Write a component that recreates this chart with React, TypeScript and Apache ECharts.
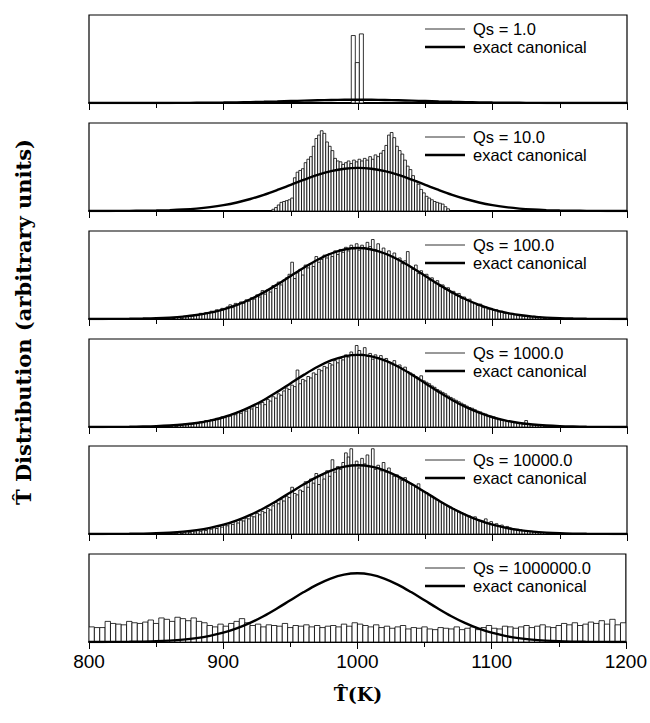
import React, { useEffect, useRef } from "react";
import * as echarts from "echarts";

// ---------- data ----------
const xMin = 800;
const xMax = 1200;
const xInterval = 100;
const xTickValues = [800, 900, 1000, 1100, 1200];
const xTickLabels = ["800", "900", "1000", "1100", "1200"];

const qsLabels = ["Qs = 1.0", "Qs = 10.0", "Qs = 100.0", "Qs = 1000.0", "Qs = 10000.0", "Qs = 1000000.0"];
const curveLabel = "exact canonical";

// vertical range of each panel (arbitrary units; canonical curve peaks at 100)
const panelYMax = [2700, 204, 124, 122, 128, 128];

// exact canonical distribution (arbitrary units)
const curveT = [
  800, 810, 820, 830, 840, 850, 860, 870, 880, 890, 900, 910, 920, 930, 940, 950, 960, 970, 980, 990, 1000,
  1010, 1020, 1030, 1040, 1050, 1060, 1070, 1080, 1090, 1100, 1110, 1120, 1130, 1140, 1150, 1160, 1170, 1180, 1190, 1200,
];
const curveValues = [
  0.0, 0.1, 0.2, 0.3, 0.6, 1.1, 2.0, 3.4, 5.6, 8.9, 13.5, 19.8, 27.8, 37.5, 48.7, 60.7, 72.6, 83.5, 92.3, 98.0, 100,
  98.0, 92.3, 83.5, 72.6, 60.7, 48.7, 37.5, 27.8, 19.8, 13.5, 8.9, 5.6, 3.4, 2.0, 1.1, 0.6, 0.3, 0.2, 0.1, 0.0,
];

// histogram bins: first left edge and width per panel
const binStarts = [995, 936, 860, 860, 860, 800];
const binWidths = [3, 2, 2, 2, 2, 4];

const qs1Counts = [2070, 1240, 2120];

const qs10Counts = [
  4, 8, 14, 20, 22, 24, 26, 30, 77, 90,
  94, 98, 112, 120, 126, 150, 168, 176, 186, 180,
  160, 150, 140, 122, 116, 114, 108, 112, 116, 110,
  118, 114, 120, 116, 122, 118, 126, 120, 130, 126,
  134, 140, 152, 176, 182, 170, 150, 140, 132, 118,
  104, 96, 82, 70, 62, 50, 42, 34, 30, 26,
  22, 20, 18, 16, 10, 5,
];

const qs100Counts = [
  1, 0, 2, 3, 1, 4, 3, 5, 4, 6,
  5, 8, 7, 9, 8, 11, 9, 13, 12, 15,
  14, 17, 20, 16, 22, 20, 24, 22, 27, 25,
  30, 28, 34, 31, 40, 35, 41, 38, 47, 43,
  52, 48, 55, 58, 63, 80, 57, 65, 70, 62,
  76, 72, 78, 74, 88, 80, 84, 90, 86, 92,
  88, 96, 91, 98, 94, 101, 96, 104, 99, 106,
  97, 104, 100, 108, 102, 112, 98, 106, 94, 100,
  92, 96, 88, 93, 84, 86, 78, 82, 95, 74,
  70, 76, 64, 68, 61, 63, 55, 58, 51, 54,
  46, 48, 42, 44, 37, 39, 33, 36, 29, 31,
  26, 28, 23, 22, 19, 21, 16, 17, 14, 15,
  12, 13, 10, 11, 8, 9, 7, 8, 6, 5,
  5, 4, 4, 3, 3, 4, 2, 3, 2, 1,
  2, 1, 1, 0, 1,
];

const qs1000Counts = [
  1, 2, 1, 3, 2, 4, 3, 5, 4, 6,
  5, 7, 6, 9, 8, 10, 9, 12, 11, 14,
  13, 16, 15, 18, 17, 21, 19, 24, 22, 26,
  25, 29, 27, 32, 34, 31, 38, 36, 42, 40,
  46, 44, 50, 54, 52, 58, 56, 79, 60, 66,
  64, 70, 68, 75, 73, 80, 78, 84, 82, 88,
  86, 92, 89, 95, 93, 100, 97, 104, 99, 113,
  106, 101, 110, 98, 102, 94, 100, 96, 99, 92,
  95, 90, 88, 92, 84, 86, 80, 83, 77, 75,
  73, 70, 68, 71, 64, 62, 60, 57, 55, 52,
  50, 48, 46, 43, 41, 39, 37, 35, 33, 31,
  29, 27, 26, 24, 22, 21, 19, 18, 16, 15,
  14, 12, 11, 10, 9, 8, 8, 7, 6, 5,
  5, 4, 9, 4, 3, 3, 2, 2, 2, 1,
  1, 1, 2, 1, 0,
];

const qs10000Counts = [
  0, 1, 1, 2, 1, 2, 3, 2, 4, 3,
  5, 4, 6, 5, 8, 7, 9, 8, 11, 10,
  13, 12, 15, 14, 18, 16, 20, 19, 23, 22,
  26, 25, 30, 28, 33, 31, 37, 35, 41, 46,
  44, 50, 48, 55, 53, 68, 59, 57, 64, 62,
  76, 68, 80, 74, 88, 72, 86, 80, 92, 84,
  108, 90, 98, 94, 104, 118, 112, 124, 100, 106,
  96, 110, 102, 115, 98, 124, 94, 100, 92, 104,
  90, 96, 88, 84, 86, 80, 78, 82, 76, 74,
  71, 68, 73, 64, 62, 60, 57, 55, 52, 50,
  47, 45, 43, 40, 39, 37, 34, 33, 31, 29,
  27, 26, 24, 25, 21, 20, 19, 22, 16, 18,
  14, 15, 12, 13, 10, 11, 9, 8, 7, 7,
  6, 5, 5, 4, 4, 3, 3, 2, 2, 2,
  1, 1, 1, 0, 1,
];

const qs1000000Counts = [
  22, 21, 21, 30, 27, 26, 25, 30, 28, 27,
  29, 32, 27, 35, 33, 30, 36, 34, 31, 35,
  30, 28, 24, 22, 26, 23, 27, 30, 34, 28,
  24, 26, 22, 25, 24, 23, 27, 21, 24, 23,
  25, 22, 24, 21, 23, 24, 22, 26, 23, 28,
  26, 24, 22, 25, 21, 23, 20, 22, 24, 19,
  21, 20, 22, 19, 18, 21, 20, 19, 22, 18,
  20, 22, 18, 21, 24, 20, 19, 23, 22, 20,
  22, 24, 21, 23, 25, 22, 21, 24, 27, 25,
  28, 24, 26, 29, 27, 31, 26, 33, 25, 28,
];

const panelCounts = [qs1Counts, qs10Counts, qs100Counts, qs1000Counts, qs10000Counts, qs1000000Counts];

const yTitle = "T\u0302 Distribution (arbitrary units)";
const xTitle = "T\u0302(K)";

// ---------- layout ----------
const panelTops = [15, 123, 231, 339, 446, 554];
const panelHeight = 88;
const gridLeft = 89;
const gridRight = 23;
const sansFont = "'Liberation Sans', Arial, sans-serif";
const serifFont = "'DejaVu Serif', serif";

export default function App() {
  const ref = useRef<HTMLDivElement>(null);

  useEffect(() => {
    if (!ref.current) return;
    const chart = echarts.init(ref.current, undefined, { renderer: "svg" });

    const grids: any[] = [];
    const xAxes: any[] = [];
    const yAxes: any[] = [];
    const series: any[] = [];
    const graphics: any[] = [];
    const curveData = curveT.map((t, k) => [t, curveValues[k]]);

    panelCounts.forEach((counts, i) => {
      grids.push({
        left: gridLeft,
        right: gridRight,
        top: panelTops[i],
        height: panelHeight,
        show: true,
        borderColor: "#000",
        borderWidth: 1.2,
        backgroundColor: "transparent",
      });
      xAxes.push({
        gridIndex: i,
        type: "value",
        min: xMin,
        max: xMax,
        interval: xInterval,
        axisLine: { show: true, onZero: false, lineStyle: { color: "#000", width: 1.8 } },
        axisTick: { show: true, length: 7, lineStyle: { color: "#000", width: 1 } },
        minorTick: { show: true, splitNumber: 2, length: 5, lineStyle: { color: "#000", width: 1 } },
        splitLine: { show: false },
        axisLabel: {
          show: i === panelCounts.length - 1,
          fontSize: 19,
          color: "#000",
          fontFamily: sansFont,
          margin: 10,
          formatter: (v: number) => {
            const idx = xTickValues.indexOf(v);
            return idx >= 0 ? xTickLabels[idx] : "";
          },
        },
      });
      yAxes.push({ gridIndex: i, type: "value", min: 0, max: panelYMax[i], show: false });

      const data = counts.map((c, k) => [binStarts[i] + k * binWidths[i], binStarts[i] + (k + 1) * binWidths[i], c]);
      series.push({
        type: "custom",
        name: qsLabels[i],
        xAxisIndex: i,
        yAxisIndex: i,
        clip: true,
        encode: { x: [0, 1], y: 2 },
        data,
        renderItem: (params: any, api: any) => {
          const p0 = api.coord([api.value(0), api.value(2)]);
          const p1 = api.coord([api.value(1), 0]);
          return {
            type: "rect",
            shape: { x: p0[0], y: p0[1], width: p1[0] - p0[0], height: p1[1] - p0[1] },
            style: { fill: "#fff", stroke: "#000", lineWidth: 0.8 },
          };
        },
        z: 2,
      });
      series.push({
        type: "line",
        name: curveLabel,
        xAxisIndex: i,
        yAxisIndex: i,
        data: curveData,
        showSymbol: false,
        smooth: 0.35,
        lineStyle: { color: "#000", width: 2.4 },
        z: 5,
      });

      const top = panelTops[i];
      graphics.push(
        { type: "line", shape: { x1: 425, y1: top + 14, x2: 465, y2: top + 14 }, style: { stroke: "#333", lineWidth: 1 }, z: 10 },
        {
          type: "text",
          x: 473,
          y: top + 14,
          style: { text: qsLabels[i], fontSize: 16.5, fontFamily: sansFont, fill: "#000", verticalAlign: "middle" },
          z: 10,
        },
        { type: "line", shape: { x1: 425, y1: top + 32, x2: 465, y2: top + 32 }, style: { stroke: "#000", lineWidth: 2.6 }, z: 10 },
        {
          type: "text",
          x: 473,
          y: top + 32,
          style: { text: curveLabel, fontSize: 16.5, fontFamily: sansFont, fill: "#000", verticalAlign: "middle" },
          z: 10,
        }
      );
    });

    graphics.push(
      {
        type: "text",
        x: 23,
        y: 322,
        rotation: Math.PI / 2,
        style: {
          text: yTitle,
          fontSize: 21,
          fontWeight: "bold",
          fontFamily: serifFont,
          fill: "#000",
          align: "center",
          verticalAlign: "middle",
        },
      },
      {
        type: "text",
        x: 358,
        y: 694,
        style: {
          text: xTitle,
          fontSize: 19,
          fontWeight: "bold",
          fontFamily: serifFont,
          fill: "#000",
          align: "center",
          verticalAlign: "middle",
        },
      }
    );

    chart.setOption({
      animation: false,
      backgroundColor: "#fff",
      grid: grids,
      xAxis: xAxes,
      yAxis: yAxes,
      series,
      graphic: graphics,
    });

    return () => chart.dispose();
  }, []);

  return <div ref={ref} style={{ position: "fixed", left: 0, top: 0, width: 650, height: 723 }} />;
}
